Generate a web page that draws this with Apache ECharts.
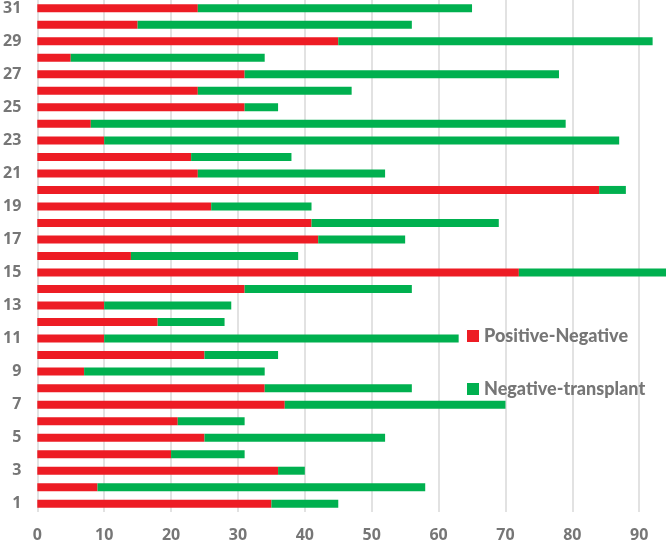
<!DOCTYPE html>
<html><head><meta charset="utf-8">
<script src="https://cdn.jsdelivr.net/npm/echarts@6/dist/echarts.min.js"></script>
<style>html,body{margin:0;padding:0;background:#fff}#c{width:666px;height:543px}</style>
</head><body><div id="c"></div>
<script>
const categories = ['1','2','3','4','5','6','7','8','9','10','11','12','13','14','15','16','17','18','19','20','21','22','23','24','25','26','27','28','29','30','31'];
const positiveNegative = [35,9,36,20,25,21,37,34,7,25,10,18,10,31,72,14,42,41,26,84,24,23,10,8,31,24,31,5,45,15,24];
const totals = [45,58,40,31,52,31,70,56,34,36,63,28,29,56,94,39,55,69,41,88,52,38,87,79,36,47,78,34,92,56,65];
const negativeTransplant = totals.map((t,i)=>t-positiveNegative[i]);
const xTicks = [0,10,20,30,40,50,60,70,80,90];

const FONT = 'Open Sans';
const GRAY = '#767676';
const chart = echarts.init(document.getElementById('c'));
chart.setOption({
  animation:false,
  textStyle:{fontFamily:FONT},
  grid:{left:33.5,right:0,top:0,bottom:29,containLabel:false},
  legend:[
    {data:['Positive-Negative'],orient:'vertical',left:462,top:322,itemWidth:12,itemHeight:12,itemGap:6,icon:'rect',
     textStyle:{fontFamily:'Lato',fontWeight:900,fontSize:18,color:'#767676'}},
    {data:['Negative-transplant'],orient:'vertical',left:462,top:375,itemWidth:12,itemHeight:12,itemGap:6,icon:'rect',
     textStyle:{fontFamily:'Lato',fontWeight:900,fontSize:18,color:'#767676'}}
  ],
  xAxis:{type:'value',min:xTicks[0],max:94,interval:10,
    axisLine:{show:false},axisTick:{show:false},
    splitLine:{show:true,showMaxLine:false,lineStyle:{color:'#d9d9d9',width:1.5}},
    axisLabel:{fontFamily:FONT,fontWeight:'bold',fontSize:16,color:GRAY,margin:15,showMaxLabel:false,
      formatter:v=>xTicks.includes(v)?String(v):''}},
  yAxis:{type:'category',data:categories,
    axisLine:{show:false},axisTick:{show:false},
    axisLabel:{interval:1,fontFamily:FONT,fontWeight:'bold',fontSize:16,color:GRAY,margin:16}},
  series:[
    {name:'Positive-Negative',type:'bar',stack:'a',data:positiveNegative,barWidth:8,itemStyle:{color:'#ed1c24'}},
    {name:'Negative-transplant',type:'bar',stack:'a',data:negativeTransplant,barWidth:8,itemStyle:{color:'#00b04f'}}
  ]
});
</script></body></html>
